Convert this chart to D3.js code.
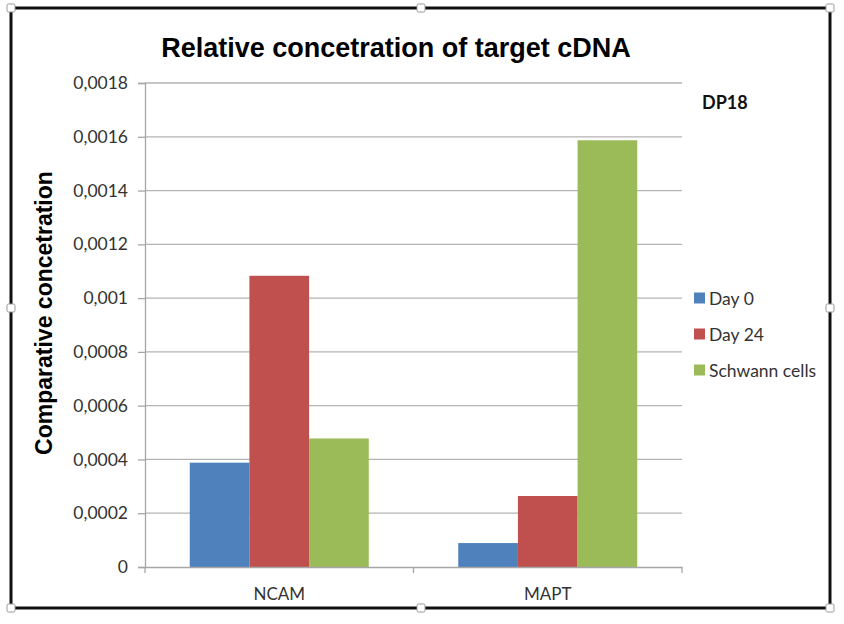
<!DOCTYPE html>
<html lang="en">
<head>
  <meta charset="UTF-8">
  <title>Relative concetration</title>
  <script src="https://d3js.org/d3.v7.min.js"></script>
  <style>
    body { margin: 0; background: #fff; }
    text { font-family: Lato, "Open Sans", sans-serif; }
  </style>
</head>
<body>
  <div id="chart"></div>
  <script>

    // data
    const categories = ['NCAM', 'MAPT'];
    const seriesNames = ['Day 0', 'Day 24', 'Schwann cells'];
    const day0 = [0.000388, 0.000089];
    const day24 = [0.001083, 0.000264];
    const schwann = [0.000478, 0.001587];
    const yTicks = [0, 0.0002, 0.0004, 0.0006, 0.0008, 0.001, 0.0012, 0.0014, 0.0016, 0.0018];
    const colors = ['#4f81bd', '#c0504d', '#9bbb59'];

    const seriesValues = [day0, day24, schwann];

    const width = 844, height = 624;
    const plot = { left: 145, right: 682, top: 83, bottom: 567 };

    const svg = d3.select('#chart').append('svg')
      .attr('width', width)
      .attr('height', height);

    // frame
    svg.append('rect')
      .attr('x', 11).attr('y', 8)
      .attr('width', 819).attr('height', 600)
      .attr('fill', 'none')
      .attr('stroke', '#111')
      .attr('stroke-width', 3);

    const handles = [[11, 8], [421, 8], [830, 8], [11, 308], [830, 308], [11, 608], [421, 608], [830, 608]];
    svg.selectAll('.handle')
      .data(handles)
      .enter()
      .append('rect')
      .attr('class', 'handle')
      .attr('x', d => d[0] - 4).attr('y', d => d[1] - 4)
      .attr('width', 8).attr('height', 8)
      .attr('rx', 1.5)
      .attr('fill', '#fff')
      .attr('stroke', '#999')
      .attr('stroke-width', 1);

    const x0 = d3.scaleBand()
      .domain(categories)
      .range([plot.left, plot.right]);

    // gap width 150% of a bar
    const x1 = d3.scaleBand()
      .domain(seriesNames)
      .range([0, x0.bandwidth()])
      .paddingOuter(0.75)
      .paddingInner(0);

    const y = d3.scaleLinear()
      .domain([0, 0.0018])
      .range([plot.bottom, plot.top]);

    // excel "general" style: trailing zeros dropped, comma decimal
    const fmt = v => v === 0 ? '0' : d3.format('.4f')(v).replace(/0+$/, '').replace('.', ',');

    // gridlines
    svg.append('g')
      .selectAll('line')
      .data(yTicks.slice(1))
      .enter()
      .append('line')
      .attr('x1', plot.left).attr('x2', plot.right)
      .attr('y1', d => y(d)).attr('y2', d => y(d))
      .attr('stroke', '#b3b3b3')
      .attr('stroke-width', 1.3);

    // y axis
    const yAxis = svg.append('g')
      .attr('transform', `translate(${plot.left},0)`)
      .call(d3.axisLeft(y).tickValues(yTicks).tickFormat(fmt).tickSize(7).tickPadding(10));
    yAxis.select('.domain').attr('stroke', '#a6a6a6').attr('stroke-width', 1.3);
    yAxis.selectAll('.tick line').attr('stroke', '#a6a6a6').attr('stroke-width', 1.3);
    yAxis.selectAll('.tick text')
      .attr('font-family', 'Lato, sans-serif')
      .attr('font-size', 17.5)
      .attr('fill', '#333');

    // bars
    const groups = svg.selectAll('.cat')
      .data(categories)
      .enter()
      .append('g')
      .attr('class', 'cat')
      .attr('transform', d => `translate(${x0(d)},0)`);

    groups.selectAll('rect')
      .data((d, i) => seriesNames.map((s, j) => ({ s: s, v: seriesValues[j][i], c: colors[j] })))
      .enter()
      .append('rect')
      .attr('x', d => x1(d.s))
      .attr('y', d => y(d.v))
      .attr('width', x1.bandwidth())
      .attr('height', d => y(0) - y(d.v))
      .attr('fill', d => d.c);

    // x axis
    const xAxis = svg.append('g')
      .attr('transform', `translate(0,${plot.bottom})`)
      .call(d3.axisBottom(x0).tickSize(0).tickPadding(21));
    xAxis.select('.domain').attr('stroke', '#a6a6a6').attr('stroke-width', 1.3);
    xAxis.selectAll('.tick text')
      .attr('font-family', 'Lato, sans-serif')
      .attr('font-size', 17)
      .attr('fill', '#333');
    xAxis.selectAll('.sep')
      .data([plot.left, x0('MAPT'), plot.right])
      .enter()
      .append('line')
      .attr('class', 'sep')
      .attr('x1', d => d).attr('x2', d => d)
      .attr('y1', 0).attr('y2', 6)
      .attr('stroke', '#a6a6a6')
      .attr('stroke-width', 1.3);

    // titles
    svg.append('text')
      .attr('x', 396).attr('y', 57)
      .attr('text-anchor', 'middle')
      .style('font-family', 'Liberation Sans, Arial, sans-serif')
      .attr('font-size', 27)
      .attr('font-weight', 'bold')
      .attr('fill', '#000')
      .text('Relative concetration of target cDNA');

    svg.append('text')
      .attr('transform', 'translate(52,313) rotate(-90)')
      .attr('text-anchor', 'middle')
      .style('font-family', 'Liberation Sans, Arial, sans-serif')
      .attr('font-size', 23)
      .attr('font-weight', 'bold')
      .attr('fill', '#000')
      .text('Comparative concetration');

    svg.append('text')
      .attr('x', 702).attr('y', 109)
      .attr('font-size', 18)
      .attr('font-weight', 'bold')
      .attr('fill', '#111')
      .text('DP18');

    // legend
    const legend = svg.selectAll('.legend')
      .data(seriesNames)
      .enter()
      .append('g')
      .attr('class', 'legend')
      .attr('transform', (d, i) => `translate(694,${298 + i * 36})`);

    legend.append('rect')
      .attr('x', 0).attr('y', -5.5)
      .attr('width', 11).attr('height', 11)
      .attr('fill', (d, i) => colors[i]);

    legend.append('text')
      .attr('x', 15).attr('y', 6.5)
      .attr('font-size', 17.5)
      .attr('fill', '#333')
      .text(d => d);

  </script>
</body>
</html>
